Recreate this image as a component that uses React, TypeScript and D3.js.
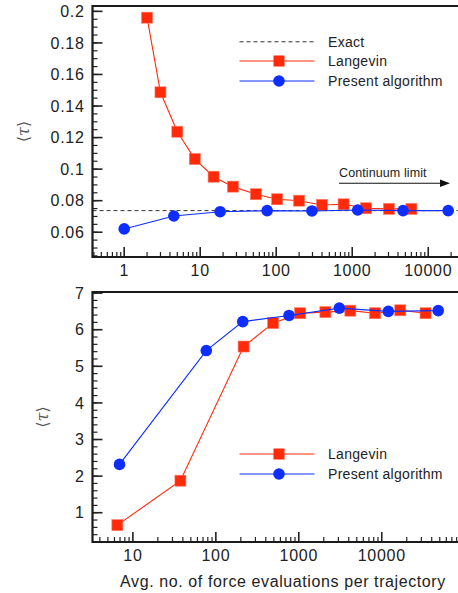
import React, { useRef, useEffect } from "react";
import * as d3 from "d3";

// top panel: <tau> vs evaluations (small values)
const topLangevinX = [2, 3, 5, 8.5, 15, 27, 54, 103, 200, 400, 770, 1520, 3040, 6000];
const topLangevinY = [0.196, 0.1487, 0.1237, 0.1064, 0.0952, 0.0889, 0.0841, 0.0809, 0.08, 0.0773, 0.0777, 0.0752, 0.0748, 0.0748];
const topPresentX = [1, 4.5, 18.3, 76, 295, 1180, 4660, 18300];
const topPresentY = [0.0621, 0.0703, 0.073, 0.0737, 0.0735, 0.0741, 0.0737, 0.0737];
const exactValue = 0.0737;
const topYTicks = [0.06, 0.08, 0.1, 0.12, 0.14, 0.16, 0.18, 0.2];
const topYLabels = ["0.06", "0.08", "0.1", "0.12", "0.14", "0.16", "0.18", "0.2"];
const topXTicks = [1, 10, 100, 1000, 10000];

// bottom panel
const botLangevinX = [6.5, 37.4, 216, 490, 1038, 2090, 4180, 8300, 16700, 33700];
const botLangevinY = [0.66, 1.875, 5.54, 6.18, 6.45, 6.48, 6.52, 6.45, 6.53, 6.45];
const botPresentX = [6.9, 76.7, 211, 762, 3080, 12000, 47900];
const botPresentY = [2.32, 5.43, 6.22, 6.39, 6.59, 6.5, 6.52];
const botYTicks = [1, 2, 3, 4, 5, 6, 7];
const botXTicks = [10, 100, 1000, 10000];

const RED = "#ff2a0a";
const BLUE = "#0d2eff";
const FONT = "'Liberation Sans', Arial, sans-serif";

const W = 458;
const H = 593;

const App = () => {
  const ref = useRef(null);

  useEffect(() => {
    const svg = d3.select(ref.current);
    svg.selectAll("*").remove();

    const left = 92.5;
    const right = 462;

    const drawPanel = (g, opts) => {
      const { top, bottom, x, y, yTicks, yLabels, yMinorStep, xTicks, xMin, xMax, labelX } = opts;

      // minor y ticks
      const y0 = y.domain()[0];
      const y1 = y.domain()[1];
      const minor = d3.range(Math.ceil(y0 / yMinorStep), Math.floor(y1 / yMinorStep) + 1).map((k) => k * yMinorStep);
      g.selectAll(".ymin")
        .data(minor)
        .join("line")
        .attr("x1", left)
        .attr("x2", left + 5)
        .attr("y1", (d) => y(d))
        .attr("y2", (d) => y(d))
        .attr("stroke", "#222")
        .attr("stroke-width", 1.2);
      g.selectAll(".ymaj")
        .data(yTicks)
        .join("line")
        .attr("x1", left)
        .attr("x2", left + 10)
        .attr("y1", (d) => y(d))
        .attr("y2", (d) => y(d))
        .attr("stroke", "#222")
        .attr("stroke-width", 1.6);
      g.selectAll(".ylab")
        .data(yTicks)
        .join("text")
        .attr("x", left - 8)
        .attr("y", (d) => y(d))
        .attr("dy", "0.35em")
        .attr("text-anchor", "end")
        .attr("font-family", FONT)
        .attr("font-size", 16)
        .attr("letter-spacing", 0.7)
        .attr("fill", "#222")
        .text((d, i) => yLabels[i]);

      // x ticks (log)
      const xMinor = [];
      for (let e = Math.floor(Math.log10(xMin)); e <= Math.ceil(Math.log10(xMax)); e++) {
        for (let m = 2; m <= 9; m++) {
          const v = m * Math.pow(10, e);
          if (v > xMin && v < xMax) xMinor.push(v);
        }
      }
      g.selectAll(".xmin")
        .data(xMinor)
        .join("line")
        .attr("x1", (d) => x(d))
        .attr("x2", (d) => x(d))
        .attr("y1", bottom)
        .attr("y2", bottom - 5)
        .attr("stroke", "#222")
        .attr("stroke-width", 1.2);
      g.selectAll(".xmaj")
        .data(xTicks)
        .join("line")
        .attr("x1", (d) => x(d))
        .attr("x2", (d) => x(d))
        .attr("y1", bottom)
        .attr("y2", bottom - 10)
        .attr("stroke", "#222")
        .attr("stroke-width", 1.6);
      g.selectAll(".xlab")
        .data(xTicks)
        .join("text")
        .attr("x", (d) => x(d))
        .attr("y", bottom + 18.5)
        .attr("text-anchor", "middle")
        .attr("font-family", FONT)
        .attr("font-size", 16)
        .attr("letter-spacing", 0.7)
        .attr("fill", "#222")
        .text((d) => String(d));

      // frame (left, top, bottom)
      g.append("path")
        .attr("d", `M${right},${top}H${left}V${bottom}H${right}`)
        .attr("fill", "none")
        .attr("stroke", "#1a1a1a")
        .attr("stroke-width", 2.2);

      // y label
      const yl = g
        .append("text")
        .attr("transform", `translate(${labelX},${(top + bottom) / 2}) rotate(-90)`)
        .attr("text-anchor", "middle")
        .attr("font-family", "'DejaVu Serif', serif")
        .attr("font-size", 16)
        .attr("fill", "#555");
      yl.append("tspan").text("⟨");
      yl.append("tspan").attr("font-style", "italic").text("τ");
      yl.append("tspan").text("⟩");
    };

    const series = (g, xs, ys, x, y, color, shape) => {
      const pts = xs.map((v, i) => [x(v), y(ys[i])]);
      g.append("path")
        .attr("d", d3.line()(pts))
        .attr("fill", "none")
        .attr("stroke", color)
        .attr("stroke-width", 1.1);
      if (shape === "square") {
        g.selectAll(null)
          .data(pts)
          .join("rect")
          .attr("x", (d) => d[0] - 5.5)
          .attr("y", (d) => d[1] - 5.5)
          .attr("width", 11)
          .attr("height", 11)
          .attr("fill", color)
          .attr("stroke", "#ff7a66")
          .attr("stroke-width", 0.6);
      } else {
        g.selectAll(null)
          .data(pts)
          .join("circle")
          .attr("cx", (d) => d[0])
          .attr("cy", (d) => d[1])
          .attr("r", 5.8)
          .attr("fill", color);
      }
    };

    const legendRow = (g, yy, label, color, shape) => {
      g.append("line")
        .attr("x1", 239.5)
        .attr("x2", 314.5)
        .attr("y1", yy)
        .attr("y2", yy)
        .attr("stroke", color)
        .attr("stroke-width", 1.1)
        .attr("stroke-dasharray", shape === "none" ? "4,3" : null);
      if (shape === "square") {
        g.append("rect").attr("x", 279 - 5.5).attr("y", yy - 5.5).attr("width", 11).attr("height", 11).attr("fill", color);
      } else if (shape === "circle") {
        g.append("circle").attr("cx", 279).attr("cy", yy).attr("r", 5.8).attr("fill", color);
      }
      g.append("text")
        .attr("x", 328)
        .attr("y", yy)
        .attr("dy", "0.35em")
        .attr("font-family", FONT)
        .attr("font-size", 14)
        .attr("letter-spacing", 0.3)
        .attr("fill", "#222")
        .text(label);
    };

    // ---------- top panel ----------
    const tTop = 6;
    const tBot = 257;
    const xT = d3.scaleLog().domain([0.383, 27800]).range([left, right]);
    const yT = d3.scaleLinear().domain([0.0443, 0.2034]).range([tBot, tTop]);
    const gT = svg.append("g");

    gT.append("line")
      .attr("x1", left)
      .attr("x2", right)
      .attr("y1", yT(exactValue))
      .attr("y2", yT(exactValue))
      .attr("stroke", "#333")
      .attr("stroke-width", 1)
      .attr("stroke-dasharray", "4,3");
    series(gT, topLangevinX, topLangevinY, xT, yT, RED, "square");
    series(gT, topPresentX, topPresentY, xT, yT, BLUE, "circle");

    drawPanel(gT, {
      top: tTop,
      bottom: tBot,
      x: xT,
      y: yT,
      yTicks: topYTicks,
      yLabels: topYLabels,
      yMinorStep: 0.005,
      xTicks: topXTicks,
      xMin: 0.383,
      xMax: 27800,
      labelX: 29,
    });

    legendRow(gT, 41.7, "Exact", "#333", "none");
    legendRow(gT, 61, "Langevin", RED, "square");
    legendRow(gT, 81, "Present algorithm", BLUE, "circle");

    // continuum arrow
    gT.append("line").attr("x1", 339).attr("x2", 444).attr("y1", 183.3).attr("y2", 183.3).attr("stroke", "#111").attr("stroke-width", 1.1);
    gT.append("path").attr("d", "M450,183.3 L440,179.5 L440,187.1 Z").attr("fill", "#111");
    gT.append("text")
      .attr("x", 339)
      .attr("y", 177)
      .attr("font-family", FONT)
      .attr("font-size", 12.5)
      .attr("letter-spacing", 0.1)
      .attr("fill", "#222")
      .text("Continuum limit");

    // ---------- bottom panel ----------
    const bTop = 292;
    const bBot = 542;
    const xB = d3.scaleLog().domain([3.26, 92700]).range([left, right]);
    const yB = d3.scaleLinear().domain([0.2, 7.03]).range([bBot, bTop]);
    const gB = svg.append("g");

    series(gB, botLangevinX, botLangevinY, xB, yB, RED, "square");
    series(gB, botPresentX, botPresentY, xB, yB, BLUE, "circle");

    drawPanel(gB, {
      top: bTop,
      bottom: bBot,
      x: xB,
      y: yB,
      yTicks: botYTicks,
      yLabels: botYTicks.map(String),
      yMinorStep: 0.2,
      xTicks: botXTicks,
      xMin: 3.26,
      xMax: 92700,
      labelX: 48,
    });

    legendRow(gB, 454, "Langevin", RED, "square");
    legendRow(gB, 474, "Present algorithm", BLUE, "circle");

    svg.append("text")
      .attr("x", 283)
      .attr("y", 587)
      .attr("text-anchor", "middle")
      .attr("font-family", FONT)
      .attr("font-size", 16)
      .attr("letter-spacing", 0.6)
      .attr("fill", "#222")
      .text("Avg. no. of force evaluations per trajectory");

    return () => {
      d3.select(ref.current).selectAll("*").remove();
    };
  }, []);

  return (
    <svg
      ref={ref}
      width={W}
      height={H}
      style={{ position: "absolute", left: 0, top: 0, background: "#fff" }}
    ></svg>
  );
};

export default App;
